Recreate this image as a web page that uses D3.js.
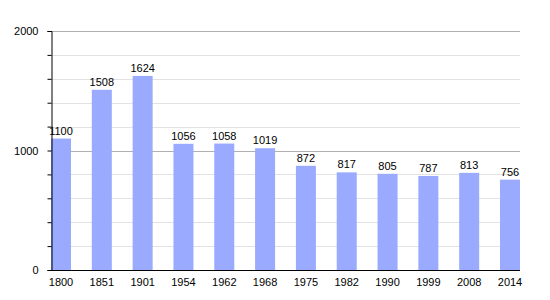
<!DOCTYPE html>
<html lang="en">
<head>
<meta charset="UTF-8">
<title>Population</title>
<script src="https://d3js.org/d3.v7.min.js"></script>
<style>
  * { margin: 0; padding: 0; }
  body { background: #fff; }
  text { font-family: "Liberation Sans", Arial, sans-serif; fill: #000; }
</style>
</head>
<body>
<div id="chart"></div>
<script>
const years = ["1800", "1851", "1901", "1954", "1962", "1968", "1975", "1982", "1990", "1999", "2008", "2014"];
const population = [1100, 1508, 1624, 1056, 1058, 1019, 872, 817, 805, 787, 813, 756];
const majorTicks = [0, 1000, 2000];
const minorTicks = [200, 400, 600, 800, 1200, 1400, 1600, 1800];

const w = 550, h = 300;
const plotLeft = 51, plotRight = 520, plotTop = 31, plotBottom = 270;

const svg = d3.select("#chart").append("svg")
  .attr("width", w).attr("height", h);

const x = d3.scaleBand().domain(years).range([plotLeft, plotRight])
  .paddingInner(0.51).paddingOuter(0).align(0);
const y = d3.scaleLinear().domain([0, 2000]).range([plotBottom, plotTop]);

// gridlines
svg.append("g").selectAll("line.minor").data(minorTicks).enter()
  .append("line")
  .attr("x1", plotLeft).attr("x2", plotRight)
  .attr("y1", d => Math.round(y(d)) + 0.5).attr("y2", d => Math.round(y(d)) + 0.5)
  .attr("stroke", "#e2e2e2");
svg.append("g").selectAll("line.major").data(majorTicks.slice(1)).enter()
  .append("line")
  .attr("x1", plotLeft).attr("x2", plotRight)
  .attr("y1", d => Math.round(y(d)) + 0.5).attr("y2", d => Math.round(y(d)) + 0.5)
  .attr("stroke", "#b0b0b0");

// bars
svg.append("g").selectAll("rect").data(population).enter()
  .append("rect")
  .attr("x", (d, i) => x(years[i]))
  .attr("width", x.bandwidth())
  .attr("y", d => y(d))
  .attr("height", d => plotBottom - y(d))
  .attr("fill", "#99aaff");

// value labels
svg.append("g").selectAll("text").data(population).enter()
  .append("text")
  .attr("x", (d, i) => x(years[i]) + x.bandwidth() / 2)
  .attr("y", d => y(d) - 4)
  .attr("text-anchor", "middle")
  .attr("font-size", 11)
  .text(d => d);

// y axis
const yAxis = d3.axisLeft(y)
  .tickValues(majorTicks.concat(minorTicks))
  .tickSize(4)
  .tickFormat(d => majorTicks.includes(d) ? d : "");
const gy = svg.append("g").attr("transform", `translate(${plotLeft + 0.5},0)`).call(yAxis);
gy.select(".domain").attr("stroke", "#000");
gy.selectAll(".tick line").attr("stroke", "#000");
gy.selectAll(".tick text").attr("x", -13).attr("font-size", 11)
  .style("font-family", "Liberation Sans, Arial, sans-serif");

// x axis
const xAxis = d3.axisBottom(x).tickSize(0).tickPadding(8);
const gx = svg.append("g").attr("transform", `translate(0,${plotBottom + 0.5})`).call(xAxis);
gx.select(".domain").attr("stroke", "#000").attr("d", `M${plotLeft},0H${plotRight}`);
gx.selectAll(".tick text").attr("font-size", 11)
  .style("font-family", "Liberation Sans, Arial, sans-serif");
</script>
</body>
</html>
